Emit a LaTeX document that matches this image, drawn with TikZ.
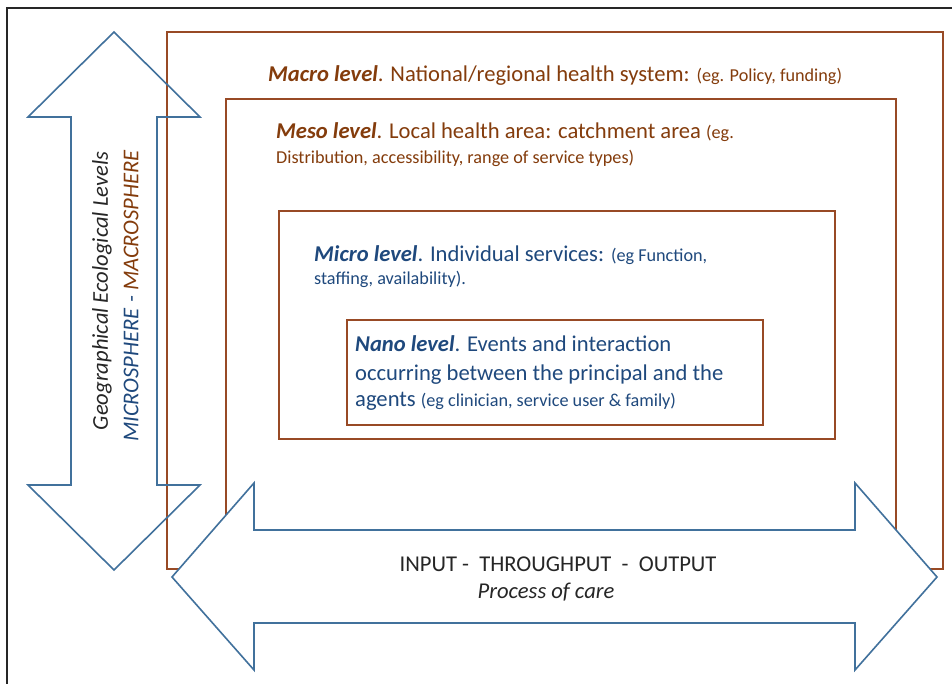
\documentclass[tikz,border=0pt]{standalone}
\usepackage{fontspec}
\setmainfont{Carlito}
\definecolor{rust}{HTML}{984A25}
\definecolor{rusttext}{HTML}{843C0C}
\definecolor{steel}{HTML}{41719C}
\definecolor{navy}{HTML}{1F497D}
\definecolor{ink}{HTML}{262626}
\newcommand\mainsize{\fontsize{22.6}{26}\selectfont}
\newcommand\egsize{\fontsize{18.2}{21}\selectfont}
\begin{document}
\begin{tikzpicture}[x=1pt,y=1pt,
    levelbox/.style={draw=rust,line width=1.5pt},
    bigarrow/.style={draw=steel,line width=1.6pt,line join=miter},
    leveltext/.style={anchor=base west,inner sep=0pt,font=\mainsize}]
  \clip (0,0) rectangle (952,-684);
  \fill[white] (0,0) rectangle (952,-684);
  \draw[ink,line width=2pt] (7,-8) rectangle (980,-720);
  \draw[levelbox] (167,-32) rectangle (943,-569);
  \draw[levelbox] (226,-99) rectangle (896,-560);
  \draw[levelbox,line width=2.8pt] (279,-211) rectangle (835,-439);
  \draw[levelbox] (347,-320) rectangle (763,-425);
  \draw[bigarrow] (114,-32) -- (200,-117) -- (157,-117) -- (157,-485)
    -- (200,-485) -- (114,-570) -- (28,-485) -- (71,-485) -- (71,-117)
    -- (28,-117) -- cycle;
  \draw[bigarrow,fill=white] (172,-577) -- (254,-483) -- (254,-530)
    -- (855,-530) -- (855,-483) -- (937,-577) -- (855,-670) -- (855,-623)
    -- (254,-623) -- (254,-670) -- cycle;
  \node[leveltext,rusttext] (macro) at (268,-82)
    {\textbf{\textit{Macro level}}. National/regional health system: {\egsize(eg. Policy, funding)}};
  \node[leveltext,rusttext] (meso) at (276,-139)
    {\textbf{\textit{Meso level}}. Local health area: catchment area {\egsize(eg.}};
  \node[leveltext,rusttext,font=\egsize] (mesoeg) at (276,-164)
    {Distribution, accessibility, range of service types)};
  \node[leveltext,navy] (micro) at (314,-262)
    {\textbf{\textit{Micro level}}. Individual services: {\egsize(eg Function,}};
  \node[leveltext,navy,font=\egsize] (microeg) at (314,-285)
    {staffing, availability).};
  \node[leveltext,navy] (nano) at (355,-351)
    {\textbf{\textit{Nano level}}. Events and interaction};
  \node[leveltext,navy] (nanob) at (355,-380)
    {occurring between the principal and the};
  \node[leveltext,navy] (nanoc) at (355,-406)
    {agents {\egsize(eg clinician, service user \& family)}};
  \node[rotate=90,ink,font=\mainsize\itshape] (geo) at (102,-291)
    {Geographical Ecological Levels};
  \node[rotate=90,font=\mainsize\itshape] (sphere) at (131,-296)
    {\textcolor{navy}{MICROSPHERE -} \textcolor{rusttext}{MACROSPHERE}};
  \node[anchor=base,ink,font=\mainsize] (flow) at (558,-571)
    {INPUT -~~THROUGHPUT~~-~~OUTPUT};
  \node[anchor=base,ink,font=\mainsize\itshape] (care) at (546,-598)
    {Process of care};
\end{tikzpicture}
\end{document}
